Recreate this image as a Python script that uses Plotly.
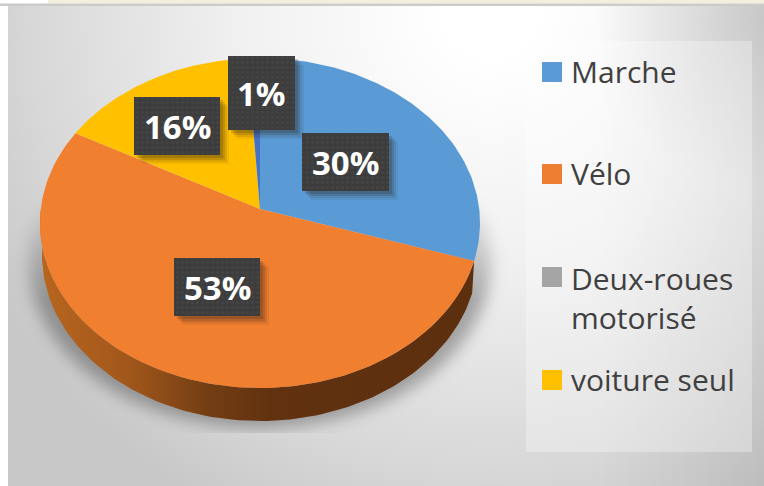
import base64
import math
import plotly.graph_objects as go

# --- data ---
legend_names = ["Marche", "Vélo", "Deux-roues<br>motorisé", "voiture seul"]
legend_colors = ["#5B9BD5", "#ED7D31", "#A5A5A5", "#FFC000"]
slice_names = ["Marche", "Vélo", "voiture seul", "Deux-roues motorisé"]
slice_values = [30, 53, 16, 1]
slice_colors = ["#5B9BD5", "#F17F30", "#FFC000", "#4472C4"]
slice_labels = ["30%", "53%", "16%", "1%"]

# --- layout constants (pixels) ---
W, H = 764, 486
CX, CY, RX, RY = 260, 223, 220, 165
TILT = 0.085
DEPTH = 32
label_boxes = [(302, 389, 133, 191), (174, 260, 258, 316), (134, 220, 97, 155), (228, 295, 56, 130)]
legend_x = 552
legend_y = [72, 174, 277, 380]


def project(t, cy=CY, rx=RX, ry=RY):
    th = 2 * math.pi * t
    u, v = math.sin(th), math.cos(th)
    d = 1 + TILT * v
    return CX + rx * u * math.sqrt(1 - TILT ** 2) / d, cy - ry * (v + TILT) / d


def rim(t0, t1, n=120, **kw):
    pts = [project(t0 + (t1 - t0) * i / n, **kw) for i in range(n + 1)]
    return [p[0] for p in pts], [p[1] for p in pts]


svg = f'''<svg xmlns="http://www.w3.org/2000/svg" width="{W}" height="{H}" viewBox="0 0 {W} {H}">
<defs>
<radialGradient id="g" gradientUnits="userSpaceOnUse" cx="490" cy="10" r="570">
<stop offset="0.08" stop-color="#ffffff"/><stop offset="0.45" stop-color="#f0f0f0"/>
<stop offset="0.8" stop-color="#d8d8d8"/><stop offset="1" stop-color="#c8c8c8"/></radialGradient>
<linearGradient id="r" x1="0" x2="1" y1="0" y2="0"><stop offset="0.78" stop-color="#000" stop-opacity="0"/>
<stop offset="1" stop-color="#000" stop-opacity="0.07"/></linearGradient>
<radialGradient id="tr" gradientUnits="userSpaceOnUse" cx="764" cy="20" r="170">
<stop offset="0" stop-color="#000" stop-opacity="0.1"/><stop offset="1" stop-color="#000" stop-opacity="0"/></radialGradient>
<filter id="b" x="-20%" y="-20%" width="140%" height="140%"><feGaussianBlur stdDeviation="8"/></filter>
<linearGradient id="fade" gradientUnits="userSpaceOnUse" x1="0" x2="0" y1="190" y2="300">
<stop offset="0" stop-color="#fff" stop-opacity="0"/><stop offset="1" stop-color="#fff" stop-opacity="1"/></linearGradient>
<mask id="m" maskUnits="userSpaceOnUse" x="0" y="0" width="{W}" height="{H}"><rect x="0" y="190" width="{W}" height="243" fill="url(#fade)"/></mask>
</defs>
<rect width="{W}" height="{H}" fill="#ffffff"/>
<rect x="8" y="6" width="{W-8}" height="{H-6}" fill="url(#g)"/>
<rect x="8" y="6" width="{W-8}" height="{H-6}" fill="url(#r)"/>
<rect x="8" y="6" width="{W-8}" height="{H-6}" fill="url(#tr)"/>
<rect x="48" y="0" width="{W-48}" height="3.5" fill="#f4efdc"/>
<rect x="0" y="3.5" width="{W}" height="2.5" fill="#cbcbcb"/>
<g mask="url(#m)"><ellipse cx="260" cy="262" rx="231" ry="166" fill="#000" fill-opacity="0.3" filter="url(#b)"/></g>
</svg>'''
bg_uri = "data:image/svg+xml;base64," + base64.b64encode(svg.encode()).decode()

fig = go.Figure()

# side wall of the disc
start = slice_values[0] / 100
wx0, wy0 = rim(start, 0.75)
wx1, wy1 = rim(start, 0.75, cy=CY + DEPTH, rx=RX - 2, ry=RY + 1)
fig.add_trace(go.Scatter(
    x=wx0 + wx1[::-1], y=wy0 + wy1[::-1], mode="lines", fill="toself",
    fillgradient=dict(type="horizontal", start=40, stop=480, colorscale=[
        [0, "#B8661F"], [0.2, "#A2571B"], [0.38, "#743E13"], [0.52, "#623210"], [1, "#5C2F0F"]]),
    line=dict(width=0), hoverinfo="skip", showlegend=False))

# pie slices, drawn from the values
cum = 0
for name, val, col in zip(slice_names, slice_values, slice_colors):
    t0, t1 = cum / 100, (cum + val) / 100
    cum += val
    rx_, ry_ = rim(t0, t1)
    ax, ay = CX, CY - RY * TILT
    fig.add_trace(go.Scatter(x=[ax] + rx_ + [ax], y=[ay] + ry_ + [ay], mode="lines", fill="toself",
                             fillcolor=col, line=dict(width=0), name=name, hoverinfo="name",
                             showlegend=False))

# label boxes
for txt, (x0, x1, y0, y1) in zip(slice_labels, label_boxes):
    for off, a in ((9, 0.07), (7, 0.1), (5, 0.14), (3, 0.18)):
        fig.add_trace(go.Scatter(x=[x0 + off, x1 + off, x1 + off, x0 + off, x0 + off],
                                 y=[y0 + off, y0 + off, y1 + off, y1 + off, y0 + off],
                                 mode="lines", fill="toself", fillcolor=f"rgba(40,30,20,{a})",
                                 line=dict(width=0), hoverinfo="skip", showlegend=False))
    fig.add_trace(go.Scatter(x=[x0, x1, x1, x0, x0], y=[y0, y0, y1, y1, y0], mode="lines", fill="toself",
                             fillcolor="#3D3D3D",
                             fillpattern=dict(shape=".", fgcolor="#4E4E4E", bgcolor="#3D3D3D", size=5, solidity=0.2),
                             line=dict(width=0), hoverinfo="skip", showlegend=False))
    fig.add_annotation(x=(x0 + x1) / 2, y=(y0 + y1) / 2, text=f"<b>{txt}</b>", showarrow=False,
                       font=dict(family="Open Sans", size=33, color="#FFFFFF"))

# legend
fig.add_trace(go.Scatter(x=[legend_x] * 4, y=legend_y, mode="markers",
                         marker=dict(symbol="square", size=20, color=legend_colors, line=dict(width=0)),
                         hoverinfo="skip", showlegend=False))
for name, y in zip(legend_names, legend_y):
    two = "<br>" in name
    fig.add_annotation(x=569, y=(y + 21) if two else y - 1, text=name, showarrow=False, xanchor="left",
                       align="left", font=dict(family="Open Sans", size=30, color="#404040"))

fig.update_layout(
    width=W, height=H, margin=dict(l=0, r=0, t=0, b=0), autosize=False,
    paper_bgcolor="#FFFFFF", plot_bgcolor="rgba(0,0,0,0)", showlegend=False,
    xaxis=dict(range=[0, W], visible=False, fixedrange=True),
    yaxis=dict(range=[H, 0], visible=False, fixedrange=True),
    images=[dict(source=bg_uri, xref="paper", yref="paper", x=0, y=1, sizex=1, sizey=1,
                 xanchor="left", yanchor="top", sizing="stretch", layer="below")],
    shapes=[dict(type="rect", xref="x", yref="y", x0=526, x1=752, y0=41, y1=452, layer="below",
                 fillcolor="rgba(255,255,255,0.3)", line=dict(width=0))],
)

fig.write_html("out.html", config=dict(displayModeBar=False),
               post_script="document.body.style.margin='0';document.body.style.overflow='hidden';")
